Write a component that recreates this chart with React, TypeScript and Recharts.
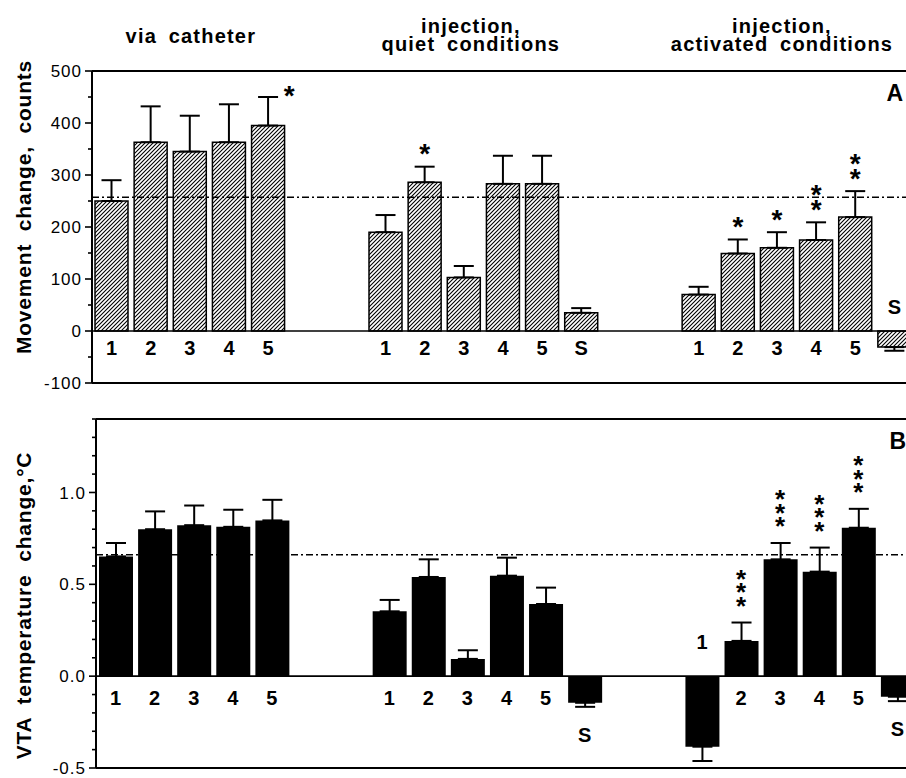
import React from 'react';
import { ComposedChart, Bar, Line, XAxis, YAxis, ReferenceLine, ErrorBar } from 'recharts';

const FONT = '"Liberation Sans", Arial, Helvetica, sans-serif';

// ---- categories / labels ----
const groupTitles = [['via catheter'], ['injection,', 'quiet conditions'], ['injection,', 'activated conditions']];
const catheterLabels = ['1', '2', '3', '4', '5'];
const quietLabels = ['1', '2', '3', '4', '5', 'S'];
const activatedLabels = ['1', '2', '3', '4', '5', 'S'];

// ---- Panel A: movement change, counts ----
const movementCatheter = [250, 363, 345, 363, 395];
const movementCatheterErr = [40, 69, 69, 73, 55];
const movementQuiet = [190, 286, 103, 283, 283, 35];
const movementQuietErr = [33, 30, 22, 54, 54, 9];
const movementActivated = [70, 149, 160, 175, 219, -31];
const movementActivatedErr = [15, 27, 30, 34, 50, 7];
const movementCatheterSig = [0, 0, 0, 0, 1];
const movementQuietSig = [0, 1, 0, 0, 0, 0];
const movementActivatedSig = [0, 1, 1, 2, 2, 0];
const movementBaseline = 257;
const movementTicks = [-100, -50, 0, 50, 100, 150, 200, 250, 300, 350, 400, 450, 500];
const movementTickLabels = ['-100', '0', '100', '200', '300', '400', '500'];

// ---- Panel B: VTA temperature change, °C ----
const tempCatheter = [0.652, 0.8, 0.822, 0.813, 0.848];
const tempCatheterErr = [0.073, 0.097, 0.107, 0.093, 0.112];
const tempQuiet = [0.353, 0.54, 0.094, 0.547, 0.393, -0.145];
const tempQuietErr = [0.062, 0.096, 0.047, 0.098, 0.089, 0.022];
const tempActivated = [-0.384, 0.192, 0.636, 0.569, 0.808, -0.112];
const tempActivatedErr = [0.078, 0.1, 0.089, 0.131, 0.103, 0.024];
const tempCatheterSig = [0, 0, 0, 0, 0];
const tempQuietSig = [0, 0, 0, 0, 0, 0];
const tempActivatedSig = [0, 3, 3, 3, 3, 0];
const tempBaseline = 0.661;
const tempTicks = [-0.5, -0.4, -0.3, -0.2, -0.1, 0, 0.1, 0.2, 0.3, 0.4, 0.5, 0.6, 0.7, 0.8, 0.9, 1.0, 1.1, 1.2, 1.3, 1.4];
const tempMajor = [-0.5, 0, 0.5, 1.0];
const tempTickLabels = ['-0.5', '0.0', '0.5', '1.0'];

const GAP = 2;

type Row = {
  key: string;
  pos: number;
  label?: string;
  value: number | null;
  err: number[] | null;
  top: number | null;
  anchor: number | null;
  zeroLine: number | null;
  sig: number;
  above: boolean;
  group: number;
  idx: number;
};

function buildRows(labels: string[][], values: number[][], errs: number[][], sigs: number[][], aboveKeys: string[]): Row[] {
  const rows: Row[] = [];
  labels.forEach((lbls, g) => {
    if (g > 0) {
      for (let k = 0; k < GAP; k++) {
        rows.push({ key: `gap${g}-${k}`, pos: rows.length + 0.5, value: null, err: null, top: null, anchor: null, zeroLine: null, sig: 0, above: false, group: g, idx: -1 });
      }
    }
    lbls.forEach((lbl, i) => {
      const v = values[g][i];
      const e = errs[g][i];
      const key = `g${g}-${i}`;
      const above = aboveKeys.includes(key);
      rows.push({
        key,
        pos: rows.length + 0.5,
        label: lbl,
        value: v,
        err: v >= 0 ? [0, e] : [e, 0],
        top: v >= 0 ? v + e : 0,
        anchor: v < 0 && !above ? v - e : 0,
        zeroLine: 0,
        sig: sigs[g][i],
        above,
        group: g,
        idx: i,
      });
    });
  });
  return rows;
}

const labelsAll = [catheterLabels, quietLabels, activatedLabels];
const movementRows = buildRows(
  labelsAll,
  [movementCatheter, movementQuiet, movementActivated],
  [movementCatheterErr, movementQuietErr, movementActivatedErr],
  [movementCatheterSig, movementQuietSig, movementActivatedSig],
  ['g2-5']
);
const tempRows = buildRows(
  labelsAll,
  [tempCatheter, tempQuiet, tempActivated],
  [tempCatheterErr, tempQuietErr, tempActivatedErr],
  [tempCatheterSig, tempQuietSig, tempActivatedSig],
  ['g2-0']
);

type Cfg = {
  posOffset: number;
  aboveOffset: number;
  belowOffset: number;
  starGap: number;
  starStep: number;
  starSize: number;
  sideThreshold: number;
};

function makeCatLabel(rows: Row[], cfg: Cfg) {
  return (p: any) => {
    const row = rows[p.index];
    if (!row || row.value === null || p.x == null || p.y == null) return <g />;
    let y: number;
    if (row.above) y = p.y - cfg.aboveOffset;
    else if (row.value < 0) y = p.y + cfg.belowOffset;
    else y = p.y + cfg.posOffset;
    return (
      <text x={p.x} y={y} textAnchor="middle" fontFamily={FONT} fontWeight="bold" fontSize={20} fill="#000">
        {row.label}
      </text>
    );
  };
}

function makeStars(rows: Row[], cfg: Cfg) {
  return (p: any) => {
    const row = rows[p.index];
    if (!row || !row.sig || p.x == null || p.y == null) return <g />;
    const side = row.top !== null && row.top > cfg.sideThreshold;
    const shift = cfg.starSize * 0.55;
    const spans = [];
    for (let i = 0; i < row.sig; i++) {
      const cx = side ? p.x + 21 : p.x;
      const cy = side ? p.y - 7 : p.y - cfg.starGap - (row.sig - 1 - i) * cfg.starStep;
      spans.push(
        <tspan key={i} x={cx} y={cy + shift}>
          *
        </tspan>
      );
    }
    return (
      <text textAnchor="middle" fontFamily={FONT} fontWeight="bold" fontSize={cfg.starSize} fill="#000">
        {spans}
      </text>
    );
  };
}

function makeYTick(major: number[], labels: string[]) {
  return (props: any) => {
    const { x, y, payload } = props;
    const idx = major.findIndex((m) => Math.abs(m - payload.value) < 1e-9);
    const isMajor = idx >= 0;
    return (
      <g>
        <line x1={x - (isMajor ? 7 : 4)} x2={x} y1={y} y2={y} stroke="#000" strokeWidth={1.6} />
        {isMajor && (
          <text x={x - 10} y={y} dy="0.36em" textAnchor="end" fontSize={17} fontFamily={FONT} letterSpacing={1} fill="#000">
            {labels[idx]}
          </text>
        )}
      </g>
    );
  };
}

const headerNudge = [1, 7, 5];
function makeHeaders(rows: Row[]) {
  return (p: any) => {
    const row = rows[p.index];
    if (!row || row.idx !== 2 || p.x == null || p.y == null) return <g />;
    const lines = groupTitles[row.group] || [];
    const offs = lines.length === 1 ? [-288] : [-298, -280];
    return (
      <g>
        {lines.map((ln, i) => (
          <text
            key={i}
            x={p.x + headerNudge[row.group]}
            y={p.y + offs[i]}
            textAnchor="middle"
            fontFamily={FONT}
            fontWeight="bold"
            fontSize={20}
            letterSpacing={1.2}
            wordSpacing={5}
            fill="#000"
          >
            {ln}
          </text>
        ))}
      </g>
    );
  };
}

type PanelProps = {
  rows: Row[];
  domain: [number, number];
  ticks: number[];
  major: number[];
  majorLabels: string[];
  baseline: number;
  fill: string;
  stroke: string;
  barSize: number;
  title: string;
  titleShift: number;
  letter: string;
  letterDx: number;
  cfg: Cfg;
  headers: boolean;
  width: number;
  height: number;
  margin: { top: number; right: number; bottom: number; left: number };
  yWidth: number;
};

function Panel(pp: PanelProps) {
  const edges = Array.from({ length: pp.rows.length + 1 }, (_, i) => i);
  const renderTitle = (props: any) => {
    const vb = props.viewBox || {};
    const cx = 31;
    const cy = vb.y + vb.height / 2 + pp.titleShift;
    return (
      <text
        x={cx}
        y={cy}
        transform={`rotate(-90 ${cx} ${cy})`}
        textAnchor="middle"
        fontFamily={FONT}
        fontWeight="bold"
        fontSize={21}
        letterSpacing={0.8}
        wordSpacing={6}
        fill="#000"
      >
        {pp.title}
      </text>
    );
  };
  const renderLetter = (props: any) => {
    const vb = props.viewBox || {};
    return (
      <text x={vb.x + vb.width - pp.letterDx} y={vb.y + 30} textAnchor="end" fontFamily={FONT} fontWeight="bold" fontSize={23} fill="#000">
        {pp.letter}
      </text>
    );
  };
  return (
    <ComposedChart width={pp.width} height={pp.height} data={pp.rows} margin={pp.margin} barCategoryGap={0} barGap={0}>
      <defs>
        <pattern id="hatch" patternUnits="userSpaceOnUse" width="4" height="4">
          <rect width="4" height="4" fill="#fff" />
          <path d="M-1,1 l2,-2 M0,4 l4,-4 M3,5 l2,-2" stroke="#000" strokeWidth={1.1} />
        </pattern>
      </defs>
      <XAxis dataKey="key" type="category" hide />
      <XAxis
        xAxisId="edges"
        dataKey="pos"
        type="number"
        domain={[0, pp.rows.length]}
        ticks={edges}
        allowDataOverflow
        interval={0}
        mirror
        tick={false}
        tickSize={6}
        tickLine={{ stroke: '#000', strokeWidth: 1.6 }}
        axisLine={{ stroke: '#000', strokeWidth: 2 }}
      />
      <YAxis
        type="number"
        domain={pp.domain}
        ticks={pp.ticks}
        allowDataOverflow
        interval={0}
        width={pp.yWidth}
        tickSize={0}
        tickMargin={0}
        tickLine={false}
        axisLine={{ stroke: '#000', strokeWidth: 2 }}
        tick={makeYTick(pp.major, pp.majorLabels)}
        label={renderTitle}
      />
      <ReferenceLine y={0} stroke="#000" strokeWidth={1.6} />
      <Bar dataKey="value" fill={pp.fill} stroke={pp.stroke} strokeWidth={1.5} barSize={pp.barSize} isAnimationActive={false}>
        <ErrorBar dataKey="err" direction="y" width={10} stroke="#000" strokeWidth={2} />
      </Bar>
      <Line dataKey="anchor" stroke="none" dot={false} activeDot={false} isAnimationActive={false} label={makeCatLabel(pp.rows, pp.cfg)} />
      <Line dataKey="top" stroke="none" dot={false} activeDot={false} isAnimationActive={false} label={makeStars(pp.rows, pp.cfg)} />
      {pp.headers && (
        <Line dataKey="zeroLine" stroke="none" dot={false} activeDot={false} isAnimationActive={false} label={makeHeaders(pp.rows)} />
      )}
      <ReferenceLine y={pp.baseline} stroke="#000" strokeWidth={1.5} strokeDasharray="7 3 2 3" />
      <ReferenceLine y={pp.domain[1]} stroke="#000" strokeWidth={2} label={renderLetter} />
    </ComposedChart>
  );
}

export default function App() {
  return (
    <div style={{ position: 'absolute', left: 0, top: 0, width: 906, height: 778, overflow: 'hidden', background: '#fff' }}>
      <div style={{ position: 'absolute', left: 0, top: 0 }}>
        <Panel
          rows={movementRows}
          domain={[-100, 500]}
          ticks={movementTicks}
          major={movementTickLabels.map(Number)}
          majorLabels={movementTickLabels}
          baseline={movementBaseline}
          fill="url(#hatch)"
          stroke="#000"
          barSize={33}
          title="Movement change, counts"
          titleShift={-20}
          letter="A"
          letterDx={11}
          cfg={{ posOffset: 24, aboveOffset: 17, belowOffset: 30, starGap: 19, starStep: 15, starSize: 28, sideThreshold: 425 }}
          headers={true}
          width={930}
          height={400}
          margin={{ top: 71, right: 16, bottom: 17, left: 0 }}
          yWidth={92}
        />
      </div>
      <div style={{ position: 'absolute', left: 0, top: 400 }}>
        <Panel
          rows={tempRows}
          domain={[-0.5, 1.4]}
          ticks={tempTicks}
          major={tempMajor}
          majorLabels={tempTickLabels}
          baseline={tempBaseline}
          fill="#000"
          stroke="none"
          barSize={34}
          title="VTA temperature change,°C"
          titleShift={12}
          letter="B"
          letterDx={11}
          cfg={{ posOffset: 29, aboveOffset: 27, belowOffset: 35, starGap: 22, starStep: 13.5, starSize: 26, sideThreshold: 10 }}
          headers={false}
          width={940}
          height={378}
          margin={{ top: 19, right: 23, bottom: 10, left: 0 }}
          yWidth={96}
        />
      </div>
    </div>
  );
}
